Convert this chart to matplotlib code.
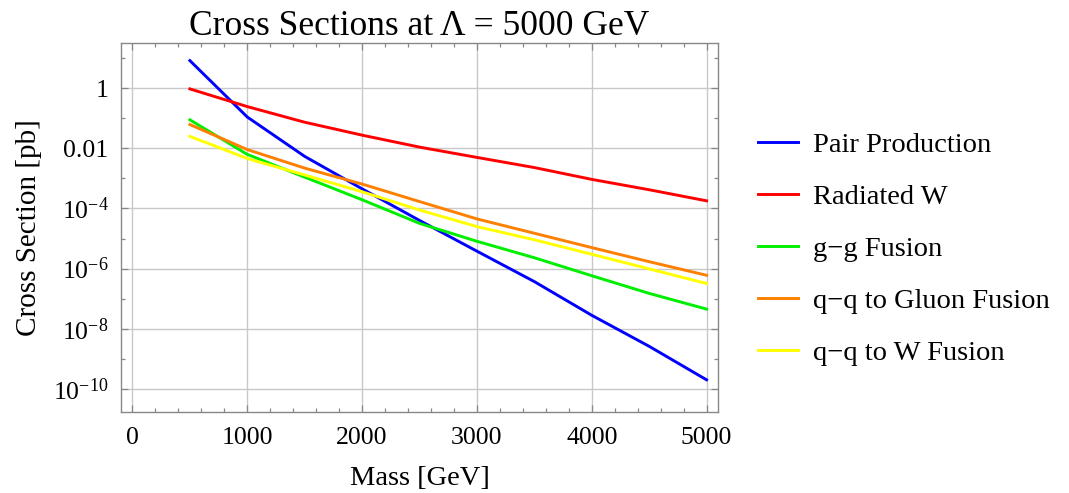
import matplotlib
matplotlib.use("Agg")
import matplotlib.pyplot as plt
from matplotlib.ticker import FixedLocator, FixedFormatter, MultipleLocator

plt.rcParams['font.family'] = ['Liberation Serif', 'DejaVu Serif']
plt.rcParams['mathtext.fontset'] = 'custom'
plt.rcParams['mathtext.rm'] = 'Liberation Serif'
plt.rcParams['mathtext.it'] = 'Liberation Serif:italic'

mass = [500, 1000, 1500, 2000, 2500, 3000, 3500, 4000, 4500, 5000]
pair_production = [8.3, 0.11, 5.4e-3, 4.5e-4, 4.0e-5, 3.8e-6, 3.7e-7, 2.8e-8, 2.6e-9, 2.0e-10]
radiated_w = [0.95, 0.245, 0.074, 0.0275, 0.011, 5.0e-3, 2.3e-3, 9.3e-4, 4.2e-4, 1.8e-4]
gg_fusion = [0.089, 6.3e-3, 1.1e-3, 1.95e-4, 3.2e-5, 8.1e-6, 2.3e-6, 5.8e-7, 1.5e-7, 4.5e-8]
qq_gluon_fusion = [0.062, 9.1e-3, 2.2e-3, 6.5e-4, 1.7e-4, 4.5e-5, 1.5e-5, 5.0e-6, 1.7e-6, 6.0e-7]
qq_w_fusion = [0.025, 4.6e-3, 1.3e-3, 3.6e-4, 8.9e-5, 2.5e-5, 9.1e-6, 3.0e-6, 9.8e-7, 3.2e-7]

series_labels = ["Pair Production", "Radiated W", "g\u2212g Fusion",
                 "q\u2212q to Gluon Fusion", "q\u2212q to W Fusion"]
series_colors = ["#0000ff", "#ff0000", "#00ee00", "#ff8000", "#ffff00"]

y_major = [1, 1e-2, 1e-4, 1e-6, 1e-8, 1e-10]
y_major_labels = ["1", "0.01", "$10^{\u22124}$", "$10^{\u22126}$", "$10^{\u22128}$", "$10^{\u221210}$"]
y_minor = [10, 0.1, 1e-3, 1e-5, 1e-7, 1e-9]
x_major = [0, 1000, 2000, 3000, 4000, 5000]

fig = plt.figure(figsize=(10.69, 4.93), dpi=100)
ax = fig.add_axes([0.1132, 0.1643, 0.5585, 0.7485])

for vals, lab, col in zip([pair_production, radiated_w, gg_fusion, qq_gluon_fusion, qq_w_fusion],
                          series_labels, series_colors):
    ax.plot(mass, vals, color=col, lw=2.1, label=lab, solid_joinstyle='round')

ax.set_yscale('log')
ax.set_xlim(-100, 5100)
ax.set_ylim(1.7e-11, 32)

ax.yaxis.set_major_locator(FixedLocator(y_major))
ax.yaxis.set_major_formatter(FixedFormatter(y_major_labels))
ax.yaxis.set_minor_locator(FixedLocator(y_minor))
ax.yaxis.set_minor_formatter(FixedFormatter([""] * len(y_minor)))
ax.xaxis.set_major_locator(FixedLocator(x_major))
ax.xaxis.set_minor_locator(MultipleLocator(200))

ax.grid(True, which='major', color='#c8c8c8', lw=1.0)
ax.set_axisbelow(True)

for sp in ax.spines.values():
    sp.set_color('#888888')
    sp.set_linewidth(1.0)

ax.tick_params(which='both', direction='in', top=True, right=True, color='#888888', width=0.9)
ax.tick_params(which='major', length=5, labelsize=18.5)
ax.tick_params(axis='x', which='major', pad=11)
ax.tick_params(axis='y', which='major', pad=9)
ax.tick_params(which='minor', length=3)

ax.set_xlabel("Mass [GeV]", fontsize=20.5, labelpad=12)
ax.set_ylabel("Cross Section [pb]", fontsize=21, labelpad=8)
ax.set_title("Cross Sections at \u039b = 5000 GeV", fontsize=25.5, pad=6)

leg = ax.legend(loc='center left', bbox_to_anchor=(0.709, 0.495), bbox_transform=fig.transFigure,
                frameon=False, borderpad=0, borderaxespad=0,
                fontsize=20.5, handlelength=1.4, handletextpad=0.55, labelspacing=0.91)

fig.savefig("out.png", dpi=100)
